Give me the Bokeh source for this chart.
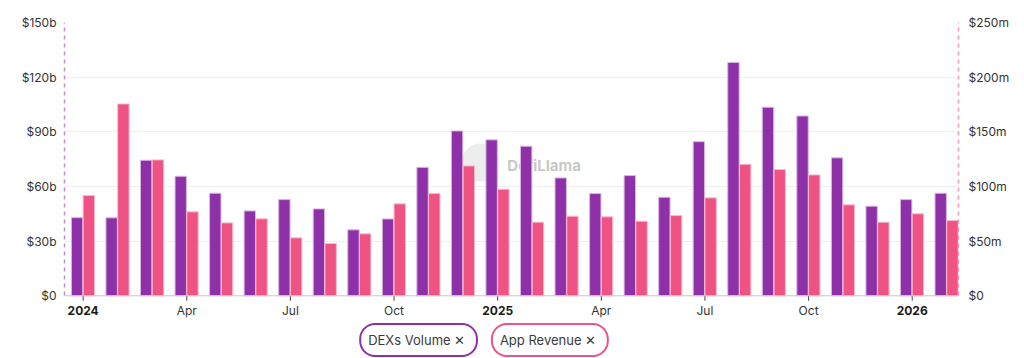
import numpy as np
import pandas as pd
from bokeh.plotting import figure
from bokeh.models import (ColumnDataSource, Range1d, LinearAxis, FixedTicker, Label, Span)
from bokeh.core.properties import value
from bokeh.embed import file_html
from bokeh.resources import INLINE

# ---- data ----
months = pd.date_range("2024-01-01", "2026-02-01", freq="MS")
dex_volume_b = [42.9, 42.8, 74.4, 65.6, 56.3, 46.6, 52.8, 47.7, 36.2, 42.2, 70.5, 90.5,
                85.6, 82.1, 64.7, 56.1, 66.0, 54.1, 84.6, 128.1, 103.5, 98.7, 75.7, 49.2,
                52.8, 56.3]
app_revenue_m = [91.7, 175.5, 124.3, 76.8, 66.7, 70.4, 53.0, 47.8, 56.7, 84.1, 93.5, 118.8,
                 97.5, 67.3, 72.8, 72.2, 68.2, 73.4, 89.6, 120.3, 115.5, 110.6, 83.2, 67.3,
                 75.0, 68.8]
left_ticks = [0, 30, 60, 90, 120, 150]
right_ticks = [0, 50, 100, 150, 200, 250]
series_names = ["DEXs Volume", "App Revenue"]

PURPLE = "#8E30A8"
PINK = "#EE5383"
FONT = "Inter"
TXT = "#333333"
W, H = 1024, 358
TOP, BASE = 22, 295.3          # pixel rows of 150b and of 0
PXB = (BASE - TOP) / 150.0     # pixels per billion
YMIN = -(H - BASE) / PXB       # frame continues down to the canvas bottom
RSCALE = 250 / 150

idx = np.arange(len(months))
src = ColumnDataSource(dict(
    xd=idx - 0.175, xr=idx + 0.165,
    dex=dex_volume_b, rev=app_revenue_m,
))

p = figure(width=W, height=H, output_backend="svg", toolbar_location=None,
           x_range=Range1d(-0.54, 25.34), y_range=Range1d(YMIN, 150),
           x_axis_location=None,
           min_border_left=64, min_border_right=W - 958, min_border_top=TOP, min_border_bottom=0)
p.extra_y_ranges = {"rev": Range1d(YMIN * RSCALE, 250)}
p.outline_line_color = None
p.background_fill_color = "white"
p.border_fill_color = "white"
p.xgrid.visible = False
p.ygrid.grid_line_color = "#efefef"
p.ygrid.ticker = FixedTicker(ticks=left_ticks)

# watermark (behind bars)
p.scatter(x=[11.5], y=[73.1], size=38, fill_color="#d8d8d8", fill_alpha=0.45,
          line_color=None, level="underlay")
p.add_layout(Label(x=12.28, y=71.5, text="DefiLlama", text_align="left", text_baseline="middle",
                   text_font=FONT, text_font_size="15px", text_font_style="bold",
                   text_color="#b5b5b5", text_alpha=0.75, level="underlay"))

p.vbar(x="xd", top="dex", width=0.33, source=src, fill_color=PURPLE,
       line_color="#d9b8e3", line_width=1)
p.vbar(x="xr", top="rev", width=0.33, source=src, fill_color=PINK,
       line_color="#f9b9cc", line_width=1, y_range_name="rev")

# left axis
ya = p.yaxis[0]
ya.ticker = FixedTicker(ticks=left_ticks)
ya.bounds = (0, 150)
ya.major_label_overrides = {t: ("$0" if t == 0 else f"${t}b") for t in left_ticks}
ya.axis_line_color = PURPLE
ya.axis_line_alpha = 0.55
ya.axis_line_dash = "4 4"
ya.axis_line_width = 1.5
ya.major_tick_out = 0
ya.major_tick_in = 0
ya.minor_tick_out = 0
ya.minor_tick_in = 0
ya.major_label_standoff = 8
ya.major_label_text_font = FONT
ya.major_label_text_font_size = "12px"
ya.major_label_text_color = TXT

# right axis
ra = LinearAxis(y_range_name="rev", ticker=FixedTicker(ticks=right_ticks), bounds=(0, 250))
ra.major_label_overrides = {t: ("$0" if t == 0 else f"${t}m") for t in right_ticks}
ra.axis_line_color = PINK
ra.axis_line_alpha = 0.6
ra.axis_line_dash = "4 4"
ra.axis_line_width = 1.5
ra.major_tick_out = 0
ra.major_tick_in = 0
ra.minor_tick_out = 0
ra.minor_tick_in = 0
ra.major_label_standoff = 10
ra.major_label_text_font = FONT
ra.major_label_text_font_size = "12px"
ra.major_label_text_color = TXT
p.add_layout(ra, "right")

# x axis (baseline, ticks and labels drawn from the tick lists)
tick_idx = [int(i) for i in idx if months[i].month in (1, 4, 7, 10)]
tick_labels = [months[i].strftime("%Y") if months[i].month == 1 else months[i].strftime("%b")
               for i in tick_idx]
tick_style = ["bold" if months[i].month == 1 else "normal" for i in tick_idx]
tick_color = ["#1a1a1a" if months[i].month == 1 else TXT for i in tick_idx]

p.add_layout(Span(location=0, dimension="width", line_color="#cccccc", line_width=1))
tsrc = ColumnDataSource(dict(x=tick_idx, lab=tick_labels, st=tick_style, col=tick_color))
p.segment(x0="x", x1="x", y0=0, y1=-5 / PXB, source=tsrc, line_color="#444444", line_width=1)
p.text(x="x", y=-(310 - BASE) / PXB, text="lab", source=tsrc, text_align="center",
       text_baseline="middle", text_font=value(FONT), text_font_size=value("12px"),
       text_font_style="st", text_color="col")

# legend pills
for name, col, cx in zip(series_names, [PURPLE, PINK], [9.71, 13.51]):
    p.add_layout(Label(x=cx, y=-(339.5 - BASE) / PXB,
                       text=f"{name}  \u2715", text_align="center",
                       text_baseline="middle", text_font=FONT, text_font_size="13px",
                       text_color="#3a3a3a", border_line_color=col, border_line_width=2,
                       border_radius=15, padding=8, background_fill_color="white"))

open("out.html", "w").write(file_html(p, INLINE))
